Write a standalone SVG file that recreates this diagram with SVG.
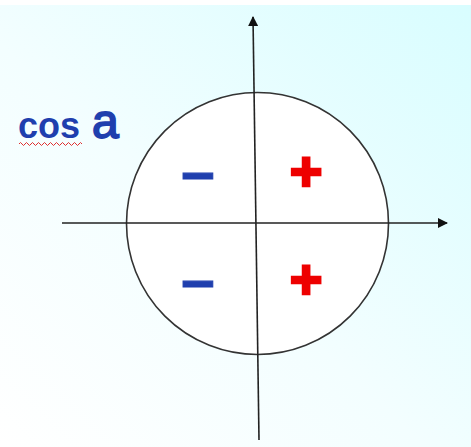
<svg xmlns="http://www.w3.org/2000/svg" width="471" height="447" viewBox="0 0 471 447">
<defs>
<linearGradient id="bg" x1="0" y1="1" x2="1" y2="0">
<stop offset="0" stop-color="#ffffff"/>
<stop offset="0.45" stop-color="#f3feff"/>
<stop offset="1" stop-color="#d8fdff"/>
</linearGradient>
<marker id="arr" viewBox="0 0 10 10" refX="9" refY="5" markerWidth="10" markerHeight="10" markerUnits="userSpaceOnUse" orient="auto">
<path d="M0,0 L10,5 L0,10 z" fill="#111"/>
</marker>
<style>
.ax{stroke:#222;stroke-width:1.6;fill:none}
.minus{font-family:"Liberation Sans",Arial,sans-serif;font-weight:bold;font-size:60px;fill:#1f3fae;stroke:#1f3fae;stroke-width:1;text-anchor:middle}
.plus{font-family:"Liberation Sans",Arial,sans-serif;font-weight:bold;font-size:56px;fill:#ee0000;stroke:#ee0000;stroke-width:2.5;text-anchor:middle}
</style>
</defs>
<rect width="471" height="447" fill="url(#bg)"/>
<rect width="471" height="5" fill="#ffffff"/>
<g id="circle">
<circle cx="257.5" cy="223.5" r="131" fill="#ffffff" stroke="#333" stroke-width="1.6"/>
</g>
<g id="connectors">
<line class="ax" x1="62" y1="223" x2="447" y2="223" marker-end="url(#arr)"/>
<line class="ax" x1="259" y1="440" x2="253" y2="17" marker-end="url(#arr)"/>
</g>
<g id="label">
<text x="18" y="138" font-family="Liberation Sans,Arial,sans-serif" fill="#1f3fae"><tspan font-size="36" font-weight="bold">cos</tspan><tspan font-size="48" dx="12" stroke="#1f3fae" stroke-width="1.8">a</tspan></text>
<path d="M19,144 q1.5,-3 3,0 t3,0 t3,0 t3,0 t3,0 t3,0 t3,0 t3,0 t3,0 t3,0 t3,0 t3,0 t3,0 t3,0 t3,0 t3,0 t3,0 t3,0 t3,0 t3,0 t3,0" fill="none" stroke="#e03030" stroke-width="1"/>
</g>
<g id="q2"><text class="minus" x="198" y="192">–</text></g>
<g id="q3"><text class="minus" x="198" y="300">–</text></g>
<g id="q1"><text class="plus" x="306" y="190">+</text></g>
<g id="q4"><text class="plus" x="306" y="298">+</text></g>
</svg>
